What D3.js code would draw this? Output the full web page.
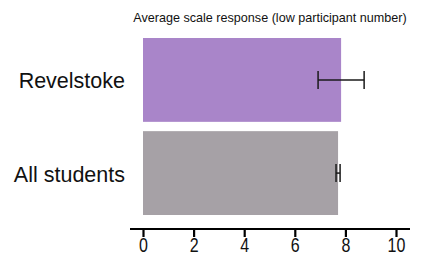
<!DOCTYPE html>
<html>
<head>
<meta charset="utf-8">
<script src="https://cdn.jsdelivr.net/npm/d3@7"></script>
<style>
  body { margin: 0; background: #fff; }
  svg text { font-family: "Liberation Sans", Arial, sans-serif; }
</style>
</head>
<body>
<svg id="chart" width="424" height="256"></svg>
<script>
// data
var categories = ["Revelstoke", "All students"];
var means = [7.83, 7.71];
var errLow = [6.92, 7.63];
var errHigh = [8.74, 7.79];
var barColors = ["#a985c9", "#a6a1a6"];
var xTicks = [0, 2, 4, 6, 8, 10];
var title = "Average scale response (low participant number)";

var svg = d3.select("#chart");

var x = d3.scaleLinear()
  .domain([0, 10])
  .range([143, 396]);

var y = d3.scaleBand()
  .domain(categories)
  .range([38, 215])
  .paddingInner(0.1)
  .paddingOuter(0);

// title
svg.append("text")
  .attr("x", 270)
  .attr("y", 22)
  .attr("text-anchor", "middle")
  .attr("font-size", "12.6px")
  .attr("fill", "#111")
  .text(title);

// bars
svg.selectAll(".bar")
  .data(categories)
  .enter()
  .append("rect")
    .classed("bar", true)
    .attr("x", x(0))
    .attr("y", d => y(d))
    .attr("width", (d, i) => x(means[i]) - x(0))
    .attr("height", y.bandwidth())
    .attr("fill", (d, i) => barColors[i]);

// error bars
var err = svg.selectAll(".err")
  .data(categories)
  .enter()
  .append("g")
    .classed("err", true)
    .attr("stroke", "#1a1a1a")
    .attr("stroke-width", 1.5);

err.append("line")
  .attr("x1", (d, i) => x(errLow[i]))
  .attr("x2", (d, i) => x(errHigh[i]))
  .attr("y1", d => y(d) + y.bandwidth() / 2)
  .attr("y2", d => y(d) + y.bandwidth() / 2);

err.append("line")
  .attr("x1", (d, i) => x(errLow[i]))
  .attr("x2", (d, i) => x(errLow[i]))
  .attr("y1", d => y(d) + y.bandwidth() / 2 - 9)
  .attr("y2", d => y(d) + y.bandwidth() / 2 + 9);

err.append("line")
  .attr("x1", (d, i) => x(errHigh[i]))
  .attr("x2", (d, i) => x(errHigh[i]))
  .attr("y1", d => y(d) + y.bandwidth() / 2 - 9)
  .attr("y2", d => y(d) + y.bandwidth() / 2 + 9);

// category labels
svg.selectAll(".cat")
  .data(categories)
  .enter()
  .append("text")
    .classed("cat", true)
    .attr("x", 125)
    .attr("y", d => y(d) + y.bandwidth() / 2 + 8.5)
    .attr("text-anchor", "end")
    .attr("font-size", "21.5px")
    .attr("fill", "#111")
    .text(d => d);

// x axis
var axis = svg.append("g")
  .attr("transform", "translate(0,229)")
  .call(d3.axisBottom(x)
    .tickValues(xTicks)
    .tickSize(8)
    .tickSizeOuter(0));

axis.select(".domain")
  .attr("d", "M130,0H410")
  .attr("stroke", "#000")
  .attr("stroke-width", 2.2);

axis.selectAll(".tick line")
  .attr("stroke", "#000")
  .attr("stroke-width", 2.2);

// tick labels look vertically stretched in the original
axis.selectAll(".tick text")
  .attr("y", 0)
  .attr("dy", 0)
  .attr("transform", "translate(0,22.5) scale(1,1.25)")
  .attr("font-size", "16px")
  .attr("fill", "#111")
  .attr("font-family", "Liberation Sans, Arial, sans-serif");
</script>
</body>
</html>
